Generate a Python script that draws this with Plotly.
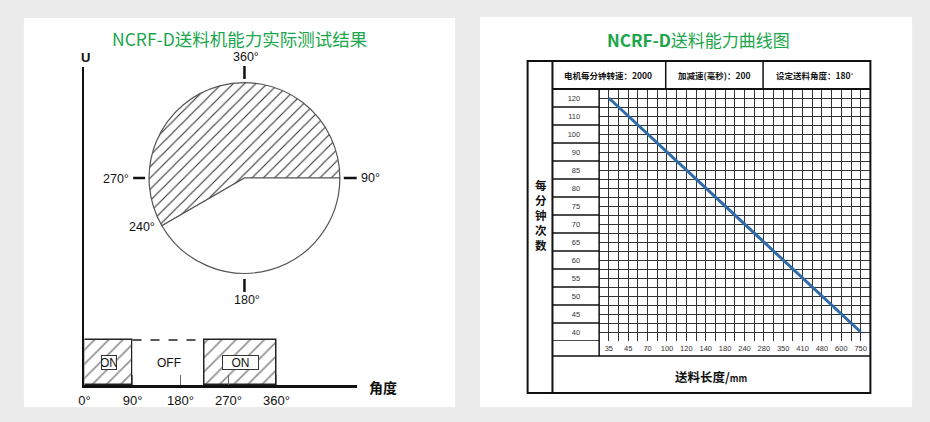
import plotly.graph_objects as go

# ---------------- data ----------------
# left panel: feeder on/off over one revolution
angle_ticks = [0, 90, 180, 270, 360]
angle_tick_text = ["0°", "90°", "180°", "270°", "360°"]
seg_start = [0, 90, 225]
seg_end = [90, 225, 360]
seg_state = ["ON", "OFF", "ON"]
on_start_deg = 240   # feeding sector on the dial, clockwise from top
on_end_deg = 90

# right panel: feed capacity curve
x_labels = ["35", "45", "70", "100", "120", "140", "180", "240", "280", "350", "410", "480", "600", "750"]
y_labels = ["120", "110", "100", "90", "85", "80", "75", "70", "65", "60", "55", "50", "45", "40"]
feed_length = [35, 45, 70, 100, 120, 140, 180, 240, 280, 350, 410, 480, 600, 750]
strokes_per_min = [120, 110, 100, 90, 85, 80, 75, 70, 65, 60, 55, 50, 45, 40]

# ---------------- helpers ----------------
W, H = 930, 422
def X(px):
    return px / W
def Y(py):
    return 1 - py / H

GREEN = "#1aa64b"
CJK = "Noto Sans CJK SC"
NARROW = "Liberation Sans Narrow, Liberation Sans, Arial"

fig = go.Figure()

# ---- left: bars along the angle axis ----
widths = [e - s for s, e in zip(seg_start, seg_end)]
centers = [(s + e) / 2 for s, e in zip(seg_start, seg_end)]
fig.add_trace(go.Bar(
    x=centers, y=[1] * len(centers), width=widths,
    xaxis="x", yaxis="y",
    marker=dict(
        color="white",
        line=dict(color=["#222" if s == "ON" else "rgba(0,0,0,0)" for s in seg_state],
                  width=[1.5 if s == "ON" else 0 for s in seg_state]),
        pattern=dict(shape=["/" if s == "ON" else "" for s in seg_state],
                     size=10, solidity=0.17, fgcolor="#222", bgcolor="white"),
    ),
    hoverinfo="skip", showlegend=False,
))

# ---- left: dial (pie) ----
on_span = (on_end_deg - on_start_deg) % 360
fig.add_trace(go.Pie(
    values=[on_span, 360 - on_span], labels=["ON", "OFF"],
    sort=False, direction="clockwise", rotation=on_start_deg,
    textinfo="none", hoverinfo="skip", showlegend=False,
    domain=dict(x=[X(144), X(336)], y=[Y(274), Y(82)]),
    marker=dict(colors=["white", "white"],
                line=dict(color="#555", width=1.2),
                pattern=dict(shape=["/", ""], size=8, solidity=0.14,
                             fgcolor="#333", bgcolor="white")),
))

# ---- right: capacity line ----
fig.add_trace(go.Scatter(
    x=[x_labels.index(str(v)) for v in feed_length],
    y=[y_labels.index(str(v)) for v in strokes_per_min],
    xaxis="x2", yaxis="y2", mode="lines",
    line=dict(color="#2f6ba8", width=3),
    hoverinfo="skip", showlegend=False,
))

shapes = []
# panels
shapes.append(dict(type="rect", xref="paper", yref="paper", x0=X(18), x1=X(452), y0=Y(407), y1=Y(18),
                   fillcolor="white", line=dict(width=0), layer="below"))
shapes.append(dict(type="rect", xref="paper", yref="paper", x0=X(477), x1=X(912), y0=Y(407), y1=Y(17),
                   fillcolor="white", line=dict(width=0), layer="below"))

# left: dashed top over OFF segments
for s, e, st in zip(seg_start, seg_end, seg_state):
    if st == "OFF":
        shapes.append(dict(type="line", xref="x", yref="y", x0=s, x1=e, y0=1, y1=1,
                           line=dict(color="#222", width=1.5, dash="dash")))

# left: dial tick marks
cx, cy = 240, 178
for (x0, y0, x1, y1) in [(cx, 66, cx, 79), (cx, 279, cx, 292), (128, cy, 140, cy), (340, cy, 353, cy)]:
    shapes.append(dict(type="line", xref="paper", yref="paper", x0=X(x0), x1=X(x1), y0=Y(y0), y1=Y(y1),
                       line=dict(color="#111", width=2.5)))

# right: table frame
def pline(x0, y0, x1, y1, w=1.5):
    shapes.append(dict(type="line", xref="paper", yref="paper", x0=X(x0), x1=X(x1), y0=Y(y0), y1=Y(y1),
                       line=dict(color="#111", width=w)))

shapes.append(dict(type="rect", xref="paper", yref="paper", x0=X(525), x1=X(870), y0=Y(393), y1=Y(61),
                   line=dict(color="#111", width=2)))
pline(550, 61, 550, 393, 2)
pline(550, 89, 870, 89, 2)
pline(664, 61, 664, 89)
pline(762, 61, 762, 89)
pline(597, 89, 597, 356)
pline(550, 356, 870, 356)
# row separators in the label column
for i in range(len(y_labels)):
    shapes.append(dict(type="line", xref="paper", yref="y2", x0=X(550), x1=X(597),
                       y0=i + 0.5, y1=i + 0.5, line=dict(color="#111", width=1.5)))

annotations = []
def ann(text, x, y, size, color="#111", family=CJK, **kw):
    annotations.append(dict(text=text, x=X(x), y=Y(y), xref="paper", yref="paper",
                            showarrow=False, xanchor="center", yanchor="middle",
                            font=dict(size=size, color=color, family=family), **kw))

# titles
ann("NCRF-D送料机能力实际测试结果", 235, 38, 17.5, color=GREEN)
ann("<b>NCRF-D</b>送料能力曲线图", 697, 40, 17, color=GREEN)

# left labels
ann("<b>U</b>", 80, 57, 13, family=NARROW)
ann("<b>角度</b>", 379, 387, 14)
ann("360°", 242, 57, 12.5, family=NARROW)
ann("180°", 243, 300, 12.5, family=NARROW)
ann("270°", 111, 179, 12.5, family=NARROW)
ann("90°", 367, 178, 12.5, family=NARROW)
ann("240°", 137, 227, 12.5, family=NARROW)

# ON/OFF labels in the bar segments
for c, st in zip(centers, seg_state):
    if st == "ON":
        annotations.append(dict(text=st, x=c, y=0.5, xref="x", yref="y", showarrow=False,
                                font=dict(size=12, color="#111", family=NARROW),
                                bgcolor="white", bordercolor="#333", borderwidth=1, borderpad=0,
                                width=14 if c < 90 else 35, height=13))
    else:
        annotations.append(dict(text=st, x=c, y=0.5, xref="x", yref="y", showarrow=False,
                                font=dict(size=12, color="#111", family=NARROW)))

# right table texts
ann("<b>电机每分钟转速：2000</b>", 606, 75, 8.5)
ann("<b>加减速(毫秒)：200</b>", 713, 75, 8.5)
ann("<b>设定送料角度：180˚</b>", 814, 75, 8.5)
ann("<b>每<br>分<br>钟<br>次<br>数</b>", 538, 215, 11.5)
ann("<b>送料长度/<span style='font-size:9px'>mm</span></b>", 710, 376, 12.5)

px_per_deg = 0.537
fig.update_layout(
    width=W, height=H, autosize=False,
    margin=dict(l=0, r=0, t=0, b=0),
    paper_bgcolor="#ececec", plot_bgcolor="white",
    bargap=0,
    shapes=shapes, annotations=annotations,
    xaxis=dict(domain=[X(79), X(353)], range=[0, (353 - 79) / px_per_deg], anchor="y",
               showline=True, linecolor="#111", linewidth=3, showgrid=False, zeroline=False,
               tickvals=angle_ticks, ticktext=angle_tick_text, ticks="inside", ticklen=10,
               tickwidth=1, tickcolor="#666",
               tickfont=dict(size=13, color="#111", family=NARROW), ticklabelstandoff=1),
    yaxis=dict(domain=[Y(385), Y(67)], range=[0, (385 - 67) / (385 - 340)], anchor="x",
               showline=True, linecolor="#111", linewidth=2, showgrid=False, zeroline=False,
               showticklabels=False, ticks=""),
    xaxis2=dict(domain=[X(597), X(870)], range=[-0.5, len(x_labels) - 0.5], anchor="y2",
                tickmode="array", tickvals=list(range(len(x_labels))), ticktext=x_labels,
                showgrid=True, gridcolor="#333", gridwidth=1, zeroline=False, showline=False,
                ticks="", tickfont=dict(size=7.5, color="#333", family="Liberation Sans"),
                ticklabelstandoff=1,
                minor=dict(tickmode="linear", tick0=-0.5, dtick=1, showgrid=True,
                           gridcolor="#333", gridwidth=1, ticks="")),
    yaxis2=dict(domain=[Y(341), Y(89)], range=[len(y_labels) - 0.5, -0.5], anchor="x2",
                tickmode="array", tickvals=list(range(len(y_labels))), ticktext=y_labels,
                showgrid=True, gridcolor="#333", gridwidth=1, zeroline=False, showline=False,
                ticks="", tickfont=dict(size=7.5, color="#333", family="Liberation Sans"),
                ticklabelstandoff=18,
                minor=dict(tickmode="linear", tick0=-0.5, dtick=1, showgrid=True,
                           gridcolor="#333", gridwidth=1, ticks="")),
)

fig.write_html("out.html", config={"displayModeBar": False},
               post_script="document.body.style.margin='0px';document.body.style.padding='0px';")
